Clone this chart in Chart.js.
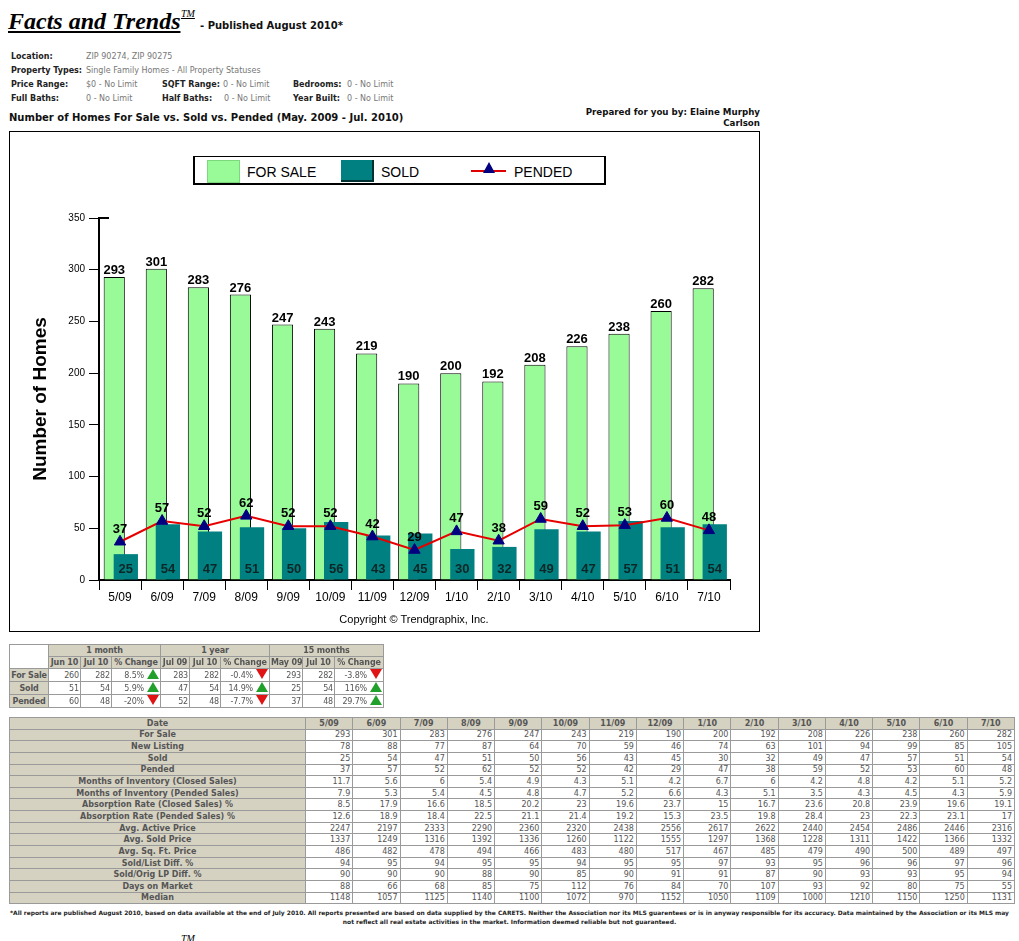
<!DOCTYPE html>
<html>
<head>
<meta charset="utf-8">
<title>Facts and Trends</title>
<script src="https://cdn.jsdelivr.net/npm/chart.js"></script>
<style>
  body { margin: 0; width: 1019px; height: 941px; overflow: hidden; background: #fff; position: relative; font-family: "DejaVu Sans", Verdana, sans-serif; color: #222; }
  .abs { position: absolute; white-space: nowrap; }
  .brand { left: 8px; top: 7px; font: italic bold 24px/28px "Liberation Serif", "Times New Roman", serif; text-decoration: underline; color: #000; }
  .tm { font: italic 10px/10px "Liberation Serif", serif; text-decoration: underline; color: #000; }
  .pub { left: 200px; top: 20px; font: bold 10px/12px "DejaVu Sans", sans-serif; color: #111; }
  .info { font-size: 8px; line-height: 10px; }
  .info b { color: #222; }
  .info span { color: #777; }
  .ctitle { left: 9px; top: 112px; font: bold 10px/12px "DejaVu Sans", sans-serif; color: #111; }
  .prep { right: 259px; top: 107px; font: bold 8.7px/11px "DejaVu Sans", sans-serif; text-align: right; color: #111; }
  #chartBox { position: absolute; left: 9px; top: 131px; width: 749px; height: 499px; border: 1px solid #000; }
  #chartBox canvas { position: absolute; left: 0; top: 0; }
  .legend { left: 193px; top: 156px; width: 409px; height: 26px; border: solid #000; border-width: 1px 2px 2px 2px; background: #fff; }
  .sw { position: absolute; width: 32px; height: 22px; }
  .lt { position: absolute; font: 14px/16px "Liberation Sans", Arial, sans-serif; color: #000; top: 7px; }
  .copy { left: 260px; width: 308px; top: 612px; text-align: center; font: 11px/14px "Liberation Sans", Arial, sans-serif; color: #000; }
  table { border-collapse: collapse; table-layout: fixed; font-size: 8px; }
  td { border: 1px solid #9a9a9a; padding: 0 2px; overflow: hidden; white-space: nowrap; }
  td.h { background: #d5d2c2; color: #555; font-weight: bold; text-align: center; }
  td.v { background: #fff; color: #555; text-align: right; }
  #mini { position: absolute; left: 9px; top: 644px; width: 374px; border: 1px solid #888; letter-spacing: -0.15px; }
  #mini td { height: 11px; line-height: 11px; padding: 0 1px; }
  #big { position: absolute; left: 9px; top: 717px; width: 1006px; border: 1px solid #888; }
  #big tr { height: 11.65px; }
  #big td { line-height: 9px; padding-top: 0; padding-bottom: 0; }
  .up, .dn { display: inline-block; width: 0; height: 0; border-left: 6px solid transparent; border-right: 6px solid transparent; margin-left: 3px; vertical-align: -1px; }
  .up { border-bottom: 10px solid #22a02c; }
  .dn { border-top: 10px solid #e01414; }
  .foot { left: 0; width: 1019px; top: 908px; text-align: center; font: bold 5.95px/9px "DejaVu Sans", sans-serif; color: #222; }
</style>
</head>
<body>
<div class="abs brand">Facts and Trends</div>
<div class="abs tm" style="left:181px; top:9px;">TM</div>
<div class="abs pub">- Published August 2010*</div>

<div class="abs info" style="left:11px; top:52px;"><b>Location:</b></div>
<div class="abs info" style="left:86px; top:52px;"><span>ZIP 90274, ZIP 90275</span></div>
<div class="abs info" style="left:11px; top:66px;"><b>Property Types:</b></div>
<div class="abs info" style="left:86px; top:66px;"><span>Single Family Homes - All Property Statuses</span></div>
<div class="abs info" style="left:11px; top:80px;"><b>Price Range:</b></div>
<div class="abs info" style="left:86px; top:80px;"><span>$0 - No Limit</span></div>
<div class="abs info" style="left:162px; top:80px;"><b>SQFT Range:</b></div>
<div class="abs info" style="left:223px; top:80px;"><span>0 - No Limit</span></div>
<div class="abs info" style="left:293px; top:80px;"><b>Bedrooms:</b></div>
<div class="abs info" style="left:347px; top:80px;"><span>0 - No Limit</span></div>
<div class="abs info" style="left:11px; top:94px;"><b>Full Baths:</b></div>
<div class="abs info" style="left:86px; top:94px;"><span>0 - No Limit</span></div>
<div class="abs info" style="left:162px; top:94px;"><b>Half Baths:</b></div>
<div class="abs info" style="left:224px; top:94px;"><span>0 - No Limit</span></div>
<div class="abs info" style="left:293px; top:94px;"><b>Year Built:</b></div>
<div class="abs info" style="left:347px; top:94px;"><span>0 - No Limit</span></div>

<div class="abs ctitle">Number of Homes For Sale vs. Sold vs. Pended (May. 2009 - Jul. 2010)</div>
<div class="abs prep">Prepared for you by: Elaine Murphy<br>Carlson</div>

<div id="chartBox"><canvas id="homesChart" width="749" height="499"></canvas></div>

<div class="abs legend">
  <div class="sw" style="left:12px; top:3px; background:#98fb98; border:1px solid #7cd87c; width:31px; height:21px;"></div>
  <div class="lt" style="left:52px;">FOR SALE</div>
  <div class="sw" style="left:146px; top:3px; background:#008080; border-right:2px solid #003030; border-bottom:2px solid #003030; width:31px; height:20px;"></div>
  <div class="lt" style="left:186px;">SOLD</div>
  <div style="position:absolute; left:276px; top:13px; width:35px; height:2px; background:#e00000;"></div>
  <div style="position:absolute; left:288px; top:5px; width:0; height:0; border-left:6px solid transparent; border-right:6px solid transparent; border-bottom:11px solid #000080;"></div>
  <div class="lt" style="left:319px;">PENDED</div>
</div>
<div class="abs copy">Copyright &copy; Trendgraphix, Inc.</div>

<table id="mini"></table>
<table id="big"></table>

<div class="abs foot">*All reports are published August 2010, based on data available at the end of July 2010. All reports presented are based on data supplied by the CARETS. Neither the Association nor its MLS guarentees or is in anyway responsible for its accuracy. Data maintained by the Association or its MLS may<br>not reflect all real estate activities in the market. Information deemed reliable but not guaranteed.</div>
<div class="abs tm" style="left:181px; top:934px;">TM</div>

<script>
// chart data
const months = ["5/09", "6/09", "7/09", "8/09", "9/09", "10/09", "11/09", "12/09", "1/10", "2/10", "3/10", "4/10", "5/10", "6/10", "7/10"];
const forSale = [293, 301, 283, 276, 247, 243, 219, 190, 200, 192, 208, 226, 238, 260, 282];
const sold = [25, 54, 47, 51, 50, 56, 43, 45, 30, 32, 49, 47, 57, 51, 54];
const pended = [37, 57, 52, 62, 52, 52, 42, 29, 47, 38, 59, 52, 53, 60, 48];

// table data
const newListing = [78, 88, 77, 87, 64, 70, 59, 46, 74, 63, 101, 94, 99, 85, 105];
const moiClosed = [11.7, 5.6, 6, 5.4, 4.9, 4.3, 5.1, 4.2, 6.7, 6, 4.2, 4.8, 4.2, 5.1, 5.2];
const moiPended = [7.9, 5.3, 5.4, 4.5, 4.8, 4.7, 5.2, 6.6, 4.3, 5.1, 3.5, 4.3, 4.5, 4.3, 5.9];
const absClosed = [8.5, 17.9, 16.6, 18.5, 20.2, 23, 19.6, 23.7, 15, 16.7, 23.6, 20.8, 23.9, 19.6, 19.1];
const absPended = [12.6, 18.9, 18.4, 22.5, 21.1, 21.4, 19.2, 15.3, 23.5, 19.8, 28.4, 23, 22.3, 23.1, 17];
const activePrice = [2247, 2197, 2333, 2290, 2360, 2320, 2438, 2556, 2617, 2622, 2440, 2454, 2486, 2446, 2316];
const soldPrice = [1337, 1249, 1316, 1392, 1336, 1260, 1122, 1555, 1297, 1368, 1228, 1311, 1422, 1366, 1332];
const sqftPrice = [486, 482, 478, 494, 466, 483, 480, 517, 467, 485, 479, 490, 500, 489, 497];
const soldListDiff = [94, 95, 94, 95, 95, 94, 95, 95, 97, 93, 95, 96, 96, 97, 96];
const soldOrigDiff = [90, 90, 90, 88, 90, 85, 90, 91, 91, 87, 90, 93, 93, 95, 94];
const daysOnMarket = [88, 66, 68, 85, 75, 112, 76, 84, 70, 107, 93, 92, 80, 75, 55];
const median = [1148, 1057, 1125, 1140, 1100, 1072, 970, 1152, 1050, 1109, 1000, 1210, 1150, 1250, 1131];

const periods = ["1 month", "1 year", "15 months"];
const periodMonths = [["Jun 10", "Jul 10"], ["Jul 09", "Jul 10"], ["May 09", "Jul 10"]];
const saleChange = [[260, 282, "8.5%"], [283, 282, "-0.4%"], [293, 282, "-3.8%"]];
const soldChange = [[51, 54, "5.9%"], [47, 54, "14.9%"], [25, 54, "116%"]];
const pendedChange = [[60, 48, "-20%"], [52, 48, "-7.7%"], [37, 48, "29.7%"]];

// summary table
const miniWidths = [39, 32, 31, 49, 29, 31, 49, 33, 32, 49];
let html = "<colgroup>" + miniWidths.map(w => `<col style="width:${w}px">`).join("") + "</colgroup>";
html += `<tr><td class="v" rowspan="2"></td>` + periods.map(p => `<td class="h" colspan="3">${p}</td>`).join("") + "</tr>";
html += "<tr>" + periodMonths.map(m => `<td class="h">${m[0]}</td><td class="h">${m[1]}</td><td class="h">% Change</td>`).join("") + "</tr>";
[["For Sale", saleChange], ["Sold", soldChange], ["Pended", pendedChange]].forEach(([name, rows]) => {
  html += `<tr><td class="h">${name}</td>` + rows.map(r =>
    `<td class="v">${r[0]}</td><td class="v">${r[1]}</td><td class="v">${r[2]}<i class="${r[2].startsWith("-") ? "dn" : "up"}"></i></td>`
  ).join("") + "</tr>";
});
document.getElementById("mini").innerHTML = html;

// monthly table
const tableRows = [
  ["For Sale", forSale], ["New Listing", newListing], ["Sold", sold], ["Pended", pended],
  ["Months of Inventory (Closed Sales)", moiClosed], ["Months of Inventory (Pended Sales)", moiPended],
  ["Absorption Rate (Closed Sales) %", absClosed], ["Absorption Rate (Pended Sales) %", absPended],
  ["Avg. Active Price", activePrice], ["Avg. Sold Price", soldPrice], ["Avg. Sq. Ft. Price", sqftPrice],
  ["Sold/List Diff. %", soldListDiff], ["Sold/Orig LP Diff. %", soldOrigDiff],
  ["Days on Market", daysOnMarket], ["Median", median]
];
html = `<colgroup><col style="width:296px">` + months.map(() => "<col>").join("") + "</colgroup>";
html += `<tr><td class="h">Date</td>` + months.map(m => `<td class="h">${m}</td>`).join("") + "</tr>";
tableRows.forEach(([name, vals]) => {
  html += `<tr><td class="h">${name}</td>` + vals.map(v => `<td class="v">${v}</td>`).join("") + "</tr>";
});
document.getElementById("big").innerHTML = html;

// sold bars go over the for-sale bars, the pended line over both
const drawInOrder = {
  id: "drawInOrder",
  beforeDatasetsDraw(chart) {
    chart.getSortedVisibleDatasetMetas()
      .slice()
      .sort((a, b) => a.index - b.index)
      .forEach(meta => meta.controller.draw());
    return false;
  }
};

const valueLabels = {
  id: "valueLabels",
  afterDraw(chart) {
    const ctx = chart.ctx;
    const y = chart.scales.y;
    ctx.save();
    ctx.font = 'bold 13px "Liberation Sans", Arial, sans-serif';
    ctx.textAlign = "center";
    ctx.fillStyle = "#000";
    chart.getDatasetMeta(0).data.forEach((bar, i) => ctx.fillText(forSale[i], bar.x, bar.y - 3));
    ctx.fillStyle = "#0b2626";
    chart.getDatasetMeta(1).data.forEach((bar, i) => ctx.fillText(sold[i], bar.x, y.bottom - 7));
    ctx.fillStyle = "#000";
    chart.getDatasetMeta(2).data.forEach((pt, i) => ctx.fillText(pended[i], pt.x, pt.y - 9));
    // small stub at the top of the value axis
    ctx.strokeStyle = "#000";
    ctx.lineWidth = 2;
    ctx.beginPath();
    ctx.moveTo(y.right, y.top);
    ctx.lineTo(y.right + 10, y.top);
    ctx.stroke();
    ctx.restore();
  }
};

Chart.defaults.font.family = '"Liberation Sans", Arial, sans-serif';

new Chart(document.getElementById("homesChart"), {
  type: "bar",
  data: {
    labels: months,
    datasets: [
      {
        label: "FOR SALE",
        data: forSale,
        backgroundColor: "#98fb98",
        borderColor: "#000",
        borderWidth: 1,
        categoryPercentage: 0.55,
        barPercentage: 1.83
      },
      {
        label: "SOLD",
        data: sold,
        backgroundColor: "#008080",
        borderWidth: 0,
        categoryPercentage: 0.55,
        barPercentage: 2.1
      },
      {
        type: "line",
        label: "PENDED",
        data: pended,
        borderColor: "#e60000",
        borderWidth: 2,
        tension: 0,
        pointStyle: "triangle",
        pointRadius: 6.5,
        pointBackgroundColor: "#000080",
        pointBorderColor: "#000080",
        pointBorderWidth: 1
      }
    ]
  },
  options: {
    responsive: false,
    animation: false,
    layout: { padding: { top: 86, right: 29, bottom: 21, left: 0 } },
    plugins: {
      legend: { display: false },
      tooltip: { enabled: false }
    },
    scales: {
      x: {
        grid: { offset: true, drawOnChartArea: false, color: "#000", tickLength: 10 },
        border: { color: "#000", width: 2 },
        ticks: { color: "#000", font: { size: 12 }, maxRotation: 0, autoSkip: false, padding: 0 },
        afterFit: s => { s.height = 30; }
      },
      y: {
        min: 0,
        max: 350,
        ticks: { stepSize: 50, color: "#000", font: { size: 10 }, padding: 4 },
        grid: { drawOnChartArea: false, color: "#000", tickLength: 10 },
        border: { color: "#000", width: 2 },
        title: {
          display: true,
          text: "Number of Homes",
          color: "#000",
          font: { size: 19, weight: "bold" },
          padding: { top: 19 }
        },
        afterFit: s => { s.width = 89; }
      }
    }
  },
  plugins: [drawInOrder, valueLabels]
});
</script>
</body>
</html>
